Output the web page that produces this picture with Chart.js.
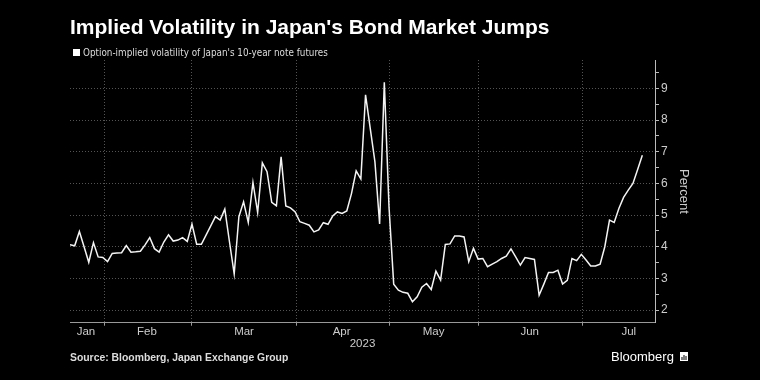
<!DOCTYPE html>
<html><head><meta charset="utf-8">
<script src="https://cdn.jsdelivr.net/npm/chart.js@4.4.0/dist/chart.umd.min.js"></script>
<style>html,body{margin:0;padding:0;background:#000;}</style>
</head><body>
<canvas id="c" width="760" height="380"></canvas>
<script>
// ---- data (x = trading-day index from 23 Jan 2023) ----
const chartTitle = "Implied Volatility in Japan's Bond Market Jumps";
const seriesLabel = "Option-implied volatility of Japan's 10-year note futures";
const sourceText = "Source: Bloomberg, Japan Exchange Group";
const yearLabel = "2023";
const axisTitle = "Percent";
const monthNames = ["Jan","Feb","Mar","Apr","May","Jun","Jul"];
const monthLabelAt = [3.4, 16.4, 37.1, 57.9, 77.5, 98.0, 119.1];
const monthStartAt = [7.25, 26.0, 48.2, 68.2, 87.0, 109.2];
const yTicks = [2, 3, 4, 5, 6, 7, 8, 9];
const volatility = [
  4.06, 4.03, 4.48, 4.00, 3.51, 4.13, 3.68, 3.66, 3.53, 3.79,
  3.80, 3.81, 4.04, 3.83, 3.84, 3.86, 4.06, 4.29, 3.94, 3.83,
  4.15, 4.38, 4.18, 4.21, 4.29, 4.17, 4.72, 4.08, 4.08, 4.37,
  4.66, 4.95, 4.84, 5.19, 4.15, 3.14, 4.95, 5.42, 4.77, 6.03,
  5.08, 6.65, 6.37, 5.40, 5.29, 6.84, 5.29, 5.23, 5.10, 4.79,
  4.74, 4.68, 4.47, 4.53, 4.76, 4.71, 4.97, 5.10, 5.05, 5.13,
  5.68, 6.40, 6.14, 8.80, 7.74, 6.68, 4.72, 9.20, 5.26, 2.82,
  2.63, 2.56, 2.53, 2.26, 2.42, 2.72, 2.84, 2.65, 3.23, 2.95,
  4.07, 4.09, 4.34, 4.34, 4.31, 3.53, 3.95, 3.61, 3.63, 3.37,
  3.45, 3.53, 3.63, 3.70, 3.93, 3.68, 3.42, 3.66, 3.63, 3.60,
  2.47, 2.82, 3.19, 3.19, 3.26, 2.82, 2.94, 3.63, 3.56, 3.76,
  3.58, 3.39, 3.39, 3.45, 4.00, 4.84, 4.77, 5.21, 5.56, 5.79,
  6.00, 6.44, 6.89
];

// ---- styling ----
const gridColor = "rgba(255,255,255,0.33)";
const clear = "rgba(0,0,0,0)";
const narrow = "'Liberation Sans Narrow','DejaVu Sans Condensed','Liberation Sans',sans-serif";
const sans = "'Liberation Sans',Arial,sans-serif";

const extras = {
  id: "extras",
  afterDraw(chart) {
    const ctx = chart.ctx, area = chart.chartArea;
    ctx.save();
    // legend
    ctx.fillStyle = "#ffffff";
    ctx.fillRect(area.left + 3, 49, 7, 7);
    ctx.font = "9.8px " + narrow;
    ctx.fillStyle = "#dddddd";
    ctx.textBaseline = "middle";
    ctx.textAlign = "left";
    ctx.fillText(seriesLabel, area.left + 13, 53);
    // Bloomberg mark
    ctx.font = "13px " + sans;
    ctx.fillStyle = "#ffffff";
    ctx.fillText("Bloomberg", 611, 357);
    ctx.fillRect(680, 352, 8, 9);
    ctx.fillStyle = "#000";
    ctx.fillRect(681.5, 357, 1, 3);
    ctx.fillRect(683.5, 355, 1, 5);
    ctx.fillRect(685.5, 356, 1, 4);
    ctx.restore();
  }
};

new Chart(document.getElementById("c"), {
  type: "line",
  data: {
    datasets: [{
      label: seriesLabel,
      data: volatility.map((v, i) => ({x: i, y: v})),
      borderColor: "#f4f4f4",
      backgroundColor: "#ffffff",
      borderWidth: 1.5,
      pointRadius: 0,
      tension: 0,
      fill: false
    }]
  },
  options: {
    responsive: false,
    animation: false,
    devicePixelRatio: 1,
    layout: {padding: {left: 70, right: 65, top: 0, bottom: 0}},
    plugins: {
      legend: {display: false},
      tooltip: {enabled: false},
      title: {
        display: true, text: chartTitle, align: "start", color: "#ffffff",
        font: {family: sans, size: 21, weight: "bold", lineHeight: 1.1},
        padding: {top: 17, bottom: 19.9}
      },
      subtitle: {
        display: true, text: sourceText, position: "bottom", align: "start", color: "#dddddd",
        font: {family: sans, size: 10.4, weight: "bold", lineHeight: 1.2},
        padding: {top: 0, bottom: 15.8}
      }
    },
    scales: {
      x: {
        type: "linear", position: "bottom", min: 0, max: 124.7,
        afterBuildTicks: axis => {
          axis.ticks = monthStartAt.concat(monthLabelAt).sort((a, b) => a - b).map(v => ({value: v}));
        },
        ticks: {
          autoSkip: false, maxRotation: 0, padding: 0, color: "#cccccc",
          font: {family: sans, size: 11.5, lineHeight: 1},
          callback: v => { const k = monthLabelAt.indexOf(v); return k >= 0 ? monthNames[k] : ""; }
        },
        grid: {
          tickLength: 3,
          color: c => (c.tick && monthStartAt.includes(c.tick.value)) ? gridColor : clear,
          tickColor: c => (c.tick && monthStartAt.includes(c.tick.value)) ? "#999999" : clear
        },
        border: {display: true, color: "#999999", width: 1, dash: [1, 2]},
        title: {
          display: true, text: yearLabel, color: "#cccccc",
          font: {family: sans, size: 11.5, lineHeight: 1},
          padding: {top: 0.75, bottom: 2.25}
        }
      },
      y: {
        type: "linear", position: "right", min: 1.6, max: 9.9,
        afterBuildTicks: axis => {
          const t = [];
          yTicks.forEach(v => { t.push(v); if (v + 0.5 <= axis.max) t.push(v + 0.5); });
          axis.ticks = t.map(v => ({value: v}));
        },
        afterFit: axis => { axis.width = 40; },
        ticks: {
          padding: 2, color: "#cccccc",
          font: {family: sans, size: 12},
          callback: v => yTicks.includes(v) ? String(v) : ""
        },
        grid: {
          tickLength: 4,
          color: c => (c.tick && yTicks.includes(c.tick.value)) ? gridColor : clear,
          tickColor: "#bbbbbb"
        },
        border: {display: true, color: "#bbbbbb", width: 1, dash: [1, 2]},
        title: {
          display: true, text: axisTitle, color: "#cccccc",
          font: {family: sans, size: 13, lineHeight: 1.2},
          padding: {top: 4, bottom: 0}
        }
      }
    }
  },
  plugins: [extras]
});
</script>
</body></html>
